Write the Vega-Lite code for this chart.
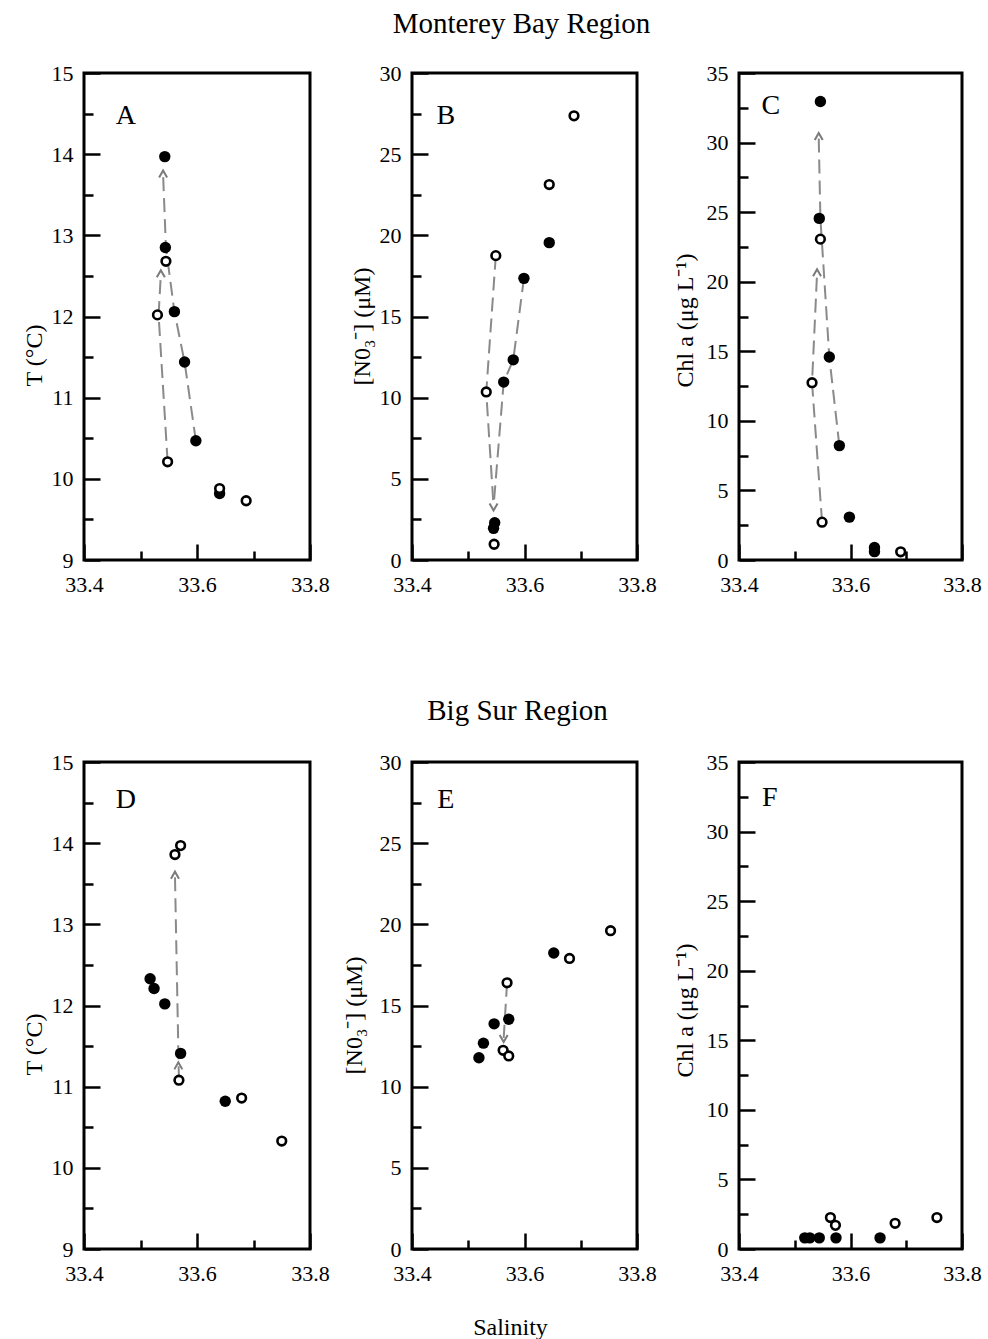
{
"$schema":"https://vega.github.io/schema/vega-lite/v6.json",
"autosize":{"type":"none"},
"padding":{"left":84,"top":73,"right":904,"bottom":1266},
"background":"white",
"datasets":{
"pts":[
{"p":"A","s":33.543,"v":13.97,"t":"filled"},{"p":"A","s":33.544,"v":12.85,"t":"filled"},{"p":"A","s":33.560,"v":12.06,"t":"filled"},{"p":"A","s":33.578,"v":11.44,"t":"filled"},{"p":"A","s":33.598,"v":10.47,"t":"filled"},{"p":"A","s":33.640,"v":9.82,"t":"filled"},
{"p":"A","s":33.530,"v":12.02,"t":"open"},{"p":"A","s":33.545,"v":12.68,"t":"open"},{"p":"A","s":33.548,"v":10.21,"t":"open"},{"p":"A","s":33.640,"v":9.88,"t":"open"},{"p":"A","s":33.687,"v":9.73,"t":"open"},
{"p":"B","s":33.644,"v":19.55,"t":"filled"},{"p":"B","s":33.599,"v":17.35,"t":"filled"},{"p":"B","s":33.580,"v":12.33,"t":"filled"},{"p":"B","s":33.563,"v":10.96,"t":"filled"},{"p":"B","s":33.545,"v":1.95,"t":"filled"},{"p":"B","s":33.547,"v":2.3,"t":"filled"},
{"p":"B","s":33.688,"v":27.36,"t":"open"},{"p":"B","s":33.644,"v":23.13,"t":"open"},{"p":"B","s":33.549,"v":18.75,"t":"open"},{"p":"B","s":33.532,"v":10.35,"t":"open"},{"p":"B","s":33.546,"v":0.97,"t":"open"},
{"p":"C","s":33.546,"v":32.95,"t":"filled"},{"p":"C","s":33.544,"v":24.55,"t":"filled"},{"p":"C","s":33.562,"v":14.59,"t":"filled"},{"p":"C","s":33.580,"v":8.22,"t":"filled"},{"p":"C","s":33.598,"v":3.08,"t":"filled"},{"p":"C","s":33.643,"v":0.9,"t":"filled"},{"p":"C","s":33.643,"v":0.6,"t":"filled"},
{"p":"C","s":33.546,"v":23.06,"t":"open"},{"p":"C","s":33.531,"v":12.74,"t":"open"},{"p":"C","s":33.549,"v":2.72,"t":"open"},{"p":"C","s":33.690,"v":0.59,"t":"open"},
{"p":"D","s":33.517,"v":12.33,"t":"filled"},{"p":"D","s":33.524,"v":12.21,"t":"filled"},{"p":"D","s":33.543,"v":12.02,"t":"filled"},{"p":"D","s":33.571,"v":11.41,"t":"filled"},{"p":"D","s":33.650,"v":10.82,"t":"filled"},
{"p":"D","s":33.571,"v":13.97,"t":"open"},{"p":"D","s":33.561,"v":13.86,"t":"open"},{"p":"D","s":33.568,"v":11.08,"t":"open"},{"p":"D","s":33.679,"v":10.86,"t":"open"},{"p":"D","s":33.750,"v":10.33,"t":"open"},
{"p":"E","s":33.519,"v":11.78,"t":"filled"},{"p":"E","s":33.527,"v":12.68,"t":"filled"},{"p":"E","s":33.546,"v":13.87,"t":"filled"},{"p":"E","s":33.572,"v":14.15,"t":"filled"},{"p":"E","s":33.652,"v":18.23,"t":"filled"},
{"p":"E","s":33.569,"v":16.40,"t":"open"},{"p":"E","s":33.562,"v":12.24,"t":"open"},{"p":"E","s":33.572,"v":11.89,"t":"open"},{"p":"E","s":33.680,"v":17.90,"t":"open"},{"p":"E","s":33.753,"v":19.61,"t":"open"},
{"p":"F","s":33.518,"v":0.8,"t":"filled"},{"p":"F","s":33.527,"v":0.8,"t":"filled"},{"p":"F","s":33.544,"v":0.8,"t":"filled"},{"p":"F","s":33.574,"v":0.8,"t":"filled"},{"p":"F","s":33.653,"v":0.8,"t":"filled"},
{"p":"F","s":33.564,"v":2.26,"t":"open"},{"p":"F","s":33.573,"v":1.7,"t":"open"},{"p":"F","s":33.680,"v":1.85,"t":"open"},{"p":"F","s":33.755,"v":2.26,"t":"open"}
],
"paths":[
{"p":"A","id":"A1","o":1,"s":33.548,"v":10.21},{"p":"A","id":"A1","o":2,"s":33.532,"v":12.02},{"p":"A","id":"A1","o":3,"s":33.536,"v":12.52},
{"p":"A","id":"A2","o":1,"s":33.598,"v":10.47},{"p":"A","id":"A2","o":2,"s":33.578,"v":11.44},{"p":"A","id":"A2","o":3,"s":33.560,"v":12.06},{"p":"A","id":"A2","o":4,"s":33.545,"v":12.85},{"p":"A","id":"A2","o":5,"s":33.540,"v":13.75},
{"p":"B","id":"B1","o":1,"s":33.549,"v":18.75},{"p":"B","id":"B1","o":2,"s":33.532,"v":10.35},{"p":"B","id":"B1","o":3,"s":33.545,"v":3.3},
{"p":"B","id":"B2","o":1,"s":33.599,"v":17.35},{"p":"B","id":"B2","o":2,"s":33.580,"v":12.33},{"p":"B","id":"B2","o":3,"s":33.563,"v":10.96},{"p":"B","id":"B2","o":4,"s":33.545,"v":3.3},
{"p":"C","id":"C1","o":1,"s":33.549,"v":2.72},{"p":"C","id":"C1","o":2,"s":33.531,"v":12.74},{"p":"C","id":"C1","o":3,"s":33.540,"v":20.6},
{"p":"C","id":"C2","o":1,"s":33.580,"v":8.22},{"p":"C","id":"C2","o":2,"s":33.562,"v":14.59},{"p":"C","id":"C2","o":3,"s":33.546,"v":24.55},{"p":"C","id":"C2","o":4,"s":33.543,"v":30.4},
{"p":"D","id":"D1","o":1,"s":33.568,"v":11.08},{"p":"D","id":"D1","o":2,"s":33.561,"v":13.6},
{"p":"E","id":"E1","o":1,"s":33.569,"v":16.40},{"p":"E","id":"E1","o":2,"s":33.563,"v":13.0}
],
"heads":[
{"p":"A","s":33.536,"v":12.52,"d":"up"},{"p":"A","s":33.540,"v":13.75,"d":"up"},
{"p":"B","s":33.545,"v":3.3,"d":"down"},
{"p":"C","s":33.540,"v":20.6,"d":"up"},{"p":"C","s":33.543,"v":30.4,"d":"up"},
{"p":"D","s":33.561,"v":13.6,"d":"up"},{"p":"D","s":33.567,"v":11.25,"d":"up"},
{"p":"E","s":33.563,"v":13.0,"d":"down"}
],
"letters":[
{"p":"A","s":33.474,"v":14.47},{"p":"B","s":33.46,"v":27.35},{"p":"C","s":33.457,"v":32.63},
{"p":"D","s":33.474,"v":14.53},{"p":"E","s":33.46,"v":27.66},{"p":"F","s":33.455,"v":32.4}
]
},
"columns":3,
"spacing":{"row":202,"column":102},
"bounds":"flush",
"concat":[
{"width":226,"height":487,
"layer":[
{"data":{"name":"paths"},"transform":[{"filter":"datum.p==='A'"}],"mark":{"type":"line","stroke":"#8a8a8a","strokeWidth":2,"strokeDash":[14,7]},
"encoding":{"x":{"field":"s","type":"quantitative","scale":{"domain":[33.4,33.8],"nice":false,"zero":false},"axis":{"orient":"bottom","values":[33.4,33.6,33.8],"tickSize":-16,"labelPadding":30,"title":null}},
"y":{"field":"v","type":"quantitative","scale":{"domain":[9,15],"nice":false,"zero":false},"axis":{"orient":"left","values":[9,10,11,12,13,14,15],"tickSize":-16,"labelPadding":27,"title":"T (°C)","titleX":-50,"titleY":282}},
"detail":{"field":"id"},"order":{"field":"o"}}},
{"data":{"name":"heads"},"transform":[{"filter":"datum.p==='A'"}],"mark":{"type":"point","filled":false,"stroke":"#7a7a7a","strokeWidth":2,"size":100,"opacity":1},
"encoding":{"x":{"field":"s","type":"quantitative","scale":{"domain":[33.4,33.8],"nice":false,"zero":false},"axis":{"orient":"bottom","values":[33.5,33.7],"tickSize":-9,"labels":false,"title":null}},
"y":{"field":"v","type":"quantitative","scale":{"domain":[9,15],"nice":false,"zero":false},"axis":{"orient":"left","values":[9.5,10.5,11.5,12.5,13.5,14.5],"tickSize":-9,"labels":false,"title":null}},
"shape":{"field":"d","type":"nominal","scale":{"domain":["up","down"],"range":["M-0.8,0.6L0,-0.8L0.8,0.6","M-0.8,-0.6L0,0.8L0.8,-0.6"]},"legend":null}}},
{"data":{"name":"pts"},"transform":[{"filter":"datum.p==='A' && datum.t==='filled'"}],"mark":{"type":"circle","fill":"black","size":130,"opacity":1},
"encoding":{"x":{"field":"s","type":"quantitative","scale":{"domain":[33.4,33.8],"nice":false,"zero":false},"axis":null},"y":{"field":"v","type":"quantitative","scale":{"domain":[9,15],"nice":false,"zero":false},"axis":null}}},
{"data":{"name":"pts"},"transform":[{"filter":"datum.p==='A' && datum.t==='open'"}],"mark":{"type":"circle","fill":"white","stroke":"black","strokeWidth":2.6,"size":75,"opacity":1},
"encoding":{"x":{"field":"s","type":"quantitative","scale":{"domain":[33.4,33.8],"nice":false,"zero":false},"axis":null},"y":{"field":"v","type":"quantitative","scale":{"domain":[9,15],"nice":false,"zero":false},"axis":null}}},
{"data":{"name":"letters"},"transform":[{"filter":"datum.p==='A'"}],"mark":{"type":"text","font":"Liberation Serif","fontSize":28,"align":"center","baseline":"middle","color":"black"},
"encoding":{"x":{"field":"s","type":"quantitative","scale":{"domain":[33.4,33.8],"nice":false,"zero":false},"axis":null},"y":{"field":"v","type":"quantitative","scale":{"domain":[9,15],"nice":false,"zero":false},"axis":null},"text":{"field":"p"}}}
],
"resolve":{"axis":{"x":"independent","y":"independent"}}},

{"width":225,"height":487,
"title":{"text":"Monterey Bay Region","frame":"group","anchor":"middle","fontSize":29,"font":"Liberation Serif","fontWeight":"normal","baseline":"alphabetic","offset":0,"dx":-3,"color":"black"},
"layer":[
{"data":{"name":"paths"},"transform":[{"filter":"datum.p==='B'"}],"mark":{"type":"line","stroke":"#8a8a8a","strokeWidth":2,"strokeDash":[14,7]},
"encoding":{"x":{"field":"s","type":"quantitative","scale":{"domain":[33.4,33.8],"nice":false,"zero":false},"axis":{"orient":"bottom","values":[33.4,33.6,33.8],"tickSize":-16,"labelPadding":30,"title":null}},
"y":{"field":"v","type":"quantitative","scale":{"domain":[0,30],"nice":false,"zero":false},"axis":{"orient":"left","values":[0,5,10,15,20,25,30],"tickSize":-16,"labelPadding":27,"title":"[N0₃⁻] (μM)","titleX":-50,"titleY":253}},
"detail":{"field":"id"},"order":{"field":"o"}}},
{"data":{"name":"heads"},"transform":[{"filter":"datum.p==='B'"}],"mark":{"type":"point","filled":false,"stroke":"#7a7a7a","strokeWidth":2,"size":100,"opacity":1},
"encoding":{"x":{"field":"s","type":"quantitative","scale":{"domain":[33.4,33.8],"nice":false,"zero":false},"axis":{"orient":"bottom","values":[33.5,33.7],"tickSize":-9,"labels":false,"title":null}},
"y":{"field":"v","type":"quantitative","scale":{"domain":[0,30],"nice":false,"zero":false},"axis":{"orient":"left","values":[2.5,7.5,12.5,17.5,22.5,27.5],"tickSize":-9,"labels":false,"title":null}},
"shape":{"field":"d","type":"nominal","scale":{"domain":["up","down"],"range":["M-0.8,0.6L0,-0.8L0.8,0.6","M-0.8,-0.6L0,0.8L0.8,-0.6"]},"legend":null}}},
{"data":{"name":"pts"},"transform":[{"filter":"datum.p==='B' && datum.t==='filled'"}],"mark":{"type":"circle","fill":"black","size":130,"opacity":1},
"encoding":{"x":{"field":"s","type":"quantitative","scale":{"domain":[33.4,33.8],"nice":false,"zero":false},"axis":null},"y":{"field":"v","type":"quantitative","scale":{"domain":[0,30],"nice":false,"zero":false},"axis":null}}},
{"data":{"name":"pts"},"transform":[{"filter":"datum.p==='B' && datum.t==='open'"}],"mark":{"type":"circle","fill":"white","stroke":"black","strokeWidth":2.6,"size":75,"opacity":1},
"encoding":{"x":{"field":"s","type":"quantitative","scale":{"domain":[33.4,33.8],"nice":false,"zero":false},"axis":null},"y":{"field":"v","type":"quantitative","scale":{"domain":[0,30],"nice":false,"zero":false},"axis":null}}},
{"data":{"name":"letters"},"transform":[{"filter":"datum.p==='B'"}],"mark":{"type":"text","font":"Liberation Serif","fontSize":28,"align":"center","baseline":"middle","color":"black"},
"encoding":{"x":{"field":"s","type":"quantitative","scale":{"domain":[33.4,33.8],"nice":false,"zero":false},"axis":null},"y":{"field":"v","type":"quantitative","scale":{"domain":[0,30],"nice":false,"zero":false},"axis":null},"text":{"field":"p"}}}
],
"resolve":{"axis":{"x":"independent","y":"independent"}}},

{"width":223,"height":487,
"layer":[
{"data":{"name":"paths"},"transform":[{"filter":"datum.p==='C'"}],"mark":{"type":"line","stroke":"#8a8a8a","strokeWidth":2,"strokeDash":[14,7]},
"encoding":{"x":{"field":"s","type":"quantitative","scale":{"domain":[33.4,33.8],"nice":false,"zero":false},"axis":{"orient":"bottom","values":[33.4,33.6,33.8],"tickSize":-16,"labelPadding":30,"title":null}},
"y":{"field":"v","type":"quantitative","scale":{"domain":[0,35],"nice":false,"zero":false},"axis":{"orient":"left","values":[0,5,10,15,20,25,30,35],"tickSize":-16,"labelPadding":27,"title":"Chl a (μg L⁻¹)","titleX":-54,"titleY":247}},
"detail":{"field":"id"},"order":{"field":"o"}}},
{"data":{"name":"heads"},"transform":[{"filter":"datum.p==='C'"}],"mark":{"type":"point","filled":false,"stroke":"#7a7a7a","strokeWidth":2,"size":100,"opacity":1},
"encoding":{"x":{"field":"s","type":"quantitative","scale":{"domain":[33.4,33.8],"nice":false,"zero":false},"axis":{"orient":"bottom","values":[33.5,33.7],"tickSize":-9,"labels":false,"title":null}},
"y":{"field":"v","type":"quantitative","scale":{"domain":[0,35],"nice":false,"zero":false},"axis":{"orient":"left","values":[2.5,7.5,12.5,17.5,22.5,27.5,32.5],"tickSize":-9,"labels":false,"title":null}},
"shape":{"field":"d","type":"nominal","scale":{"domain":["up","down"],"range":["M-0.8,0.6L0,-0.8L0.8,0.6","M-0.8,-0.6L0,0.8L0.8,-0.6"]},"legend":null}}},
{"data":{"name":"pts"},"transform":[{"filter":"datum.p==='C' && datum.t==='filled'"}],"mark":{"type":"circle","fill":"black","size":130,"opacity":1},
"encoding":{"x":{"field":"s","type":"quantitative","scale":{"domain":[33.4,33.8],"nice":false,"zero":false},"axis":null},"y":{"field":"v","type":"quantitative","scale":{"domain":[0,35],"nice":false,"zero":false},"axis":null}}},
{"data":{"name":"pts"},"transform":[{"filter":"datum.p==='C' && datum.t==='open'"}],"mark":{"type":"circle","fill":"white","stroke":"black","strokeWidth":2.6,"size":75,"opacity":1},
"encoding":{"x":{"field":"s","type":"quantitative","scale":{"domain":[33.4,33.8],"nice":false,"zero":false},"axis":null},"y":{"field":"v","type":"quantitative","scale":{"domain":[0,35],"nice":false,"zero":false},"axis":null}}},
{"data":{"name":"letters"},"transform":[{"filter":"datum.p==='C'"}],"mark":{"type":"text","font":"Liberation Serif","fontSize":28,"align":"center","baseline":"middle","color":"black"},
"encoding":{"x":{"field":"s","type":"quantitative","scale":{"domain":[33.4,33.8],"nice":false,"zero":false},"axis":null},"y":{"field":"v","type":"quantitative","scale":{"domain":[0,35],"nice":false,"zero":false},"axis":null},"text":{"field":"p"}}}
],
"resolve":{"axis":{"x":"independent","y":"independent"}}},

{"width":226,"height":487,
"layer":[
{"data":{"name":"paths"},"transform":[{"filter":"datum.p==='D'"}],"mark":{"type":"line","stroke":"#8a8a8a","strokeWidth":2,"strokeDash":[14,7]},
"encoding":{"x":{"field":"s","type":"quantitative","scale":{"domain":[33.4,33.8],"nice":false,"zero":false},"axis":{"orient":"bottom","values":[33.4,33.6,33.8],"tickSize":-16,"labelPadding":30,"title":null}},
"y":{"field":"v","type":"quantitative","scale":{"domain":[9,15],"nice":false,"zero":false},"axis":{"orient":"left","values":[9,10,11,12,13,14,15],"tickSize":-16,"labelPadding":27,"title":"T (°C)","titleX":-50,"titleY":282}},
"detail":{"field":"id"},"order":{"field":"o"}}},
{"data":{"name":"heads"},"transform":[{"filter":"datum.p==='D'"}],"mark":{"type":"point","filled":false,"stroke":"#7a7a7a","strokeWidth":2,"size":100,"opacity":1},
"encoding":{"x":{"field":"s","type":"quantitative","scale":{"domain":[33.4,33.8],"nice":false,"zero":false},"axis":{"orient":"bottom","values":[33.5,33.7],"tickSize":-9,"labels":false,"title":null}},
"y":{"field":"v","type":"quantitative","scale":{"domain":[9,15],"nice":false,"zero":false},"axis":{"orient":"left","values":[9.5,10.5,11.5,12.5,13.5,14.5],"tickSize":-9,"labels":false,"title":null}},
"shape":{"field":"d","type":"nominal","scale":{"domain":["up","down"],"range":["M-0.8,0.6L0,-0.8L0.8,0.6","M-0.8,-0.6L0,0.8L0.8,-0.6"]},"legend":null}}},
{"data":{"name":"pts"},"transform":[{"filter":"datum.p==='D' && datum.t==='filled'"}],"mark":{"type":"circle","fill":"black","size":130,"opacity":1},
"encoding":{"x":{"field":"s","type":"quantitative","scale":{"domain":[33.4,33.8],"nice":false,"zero":false},"axis":null},"y":{"field":"v","type":"quantitative","scale":{"domain":[9,15],"nice":false,"zero":false},"axis":null}}},
{"data":{"name":"pts"},"transform":[{"filter":"datum.p==='D' && datum.t==='open'"}],"mark":{"type":"circle","fill":"white","stroke":"black","strokeWidth":2.6,"size":75,"opacity":1},
"encoding":{"x":{"field":"s","type":"quantitative","scale":{"domain":[33.4,33.8],"nice":false,"zero":false},"axis":null},"y":{"field":"v","type":"quantitative","scale":{"domain":[9,15],"nice":false,"zero":false},"axis":null}}},
{"data":{"name":"letters"},"transform":[{"filter":"datum.p==='D'"}],"mark":{"type":"text","font":"Liberation Serif","fontSize":28,"align":"center","baseline":"middle","color":"black"},
"encoding":{"x":{"field":"s","type":"quantitative","scale":{"domain":[33.4,33.8],"nice":false,"zero":false},"axis":null},"y":{"field":"v","type":"quantitative","scale":{"domain":[9,15],"nice":false,"zero":false},"axis":null},"text":{"field":"p"}}}
],
"resolve":{"axis":{"x":"independent","y":"independent"}}},

{"width":225,"height":487,
"title":{"text":"Big Sur Region","frame":"group","anchor":"middle","fontSize":29,"font":"Liberation Serif","fontWeight":"normal","baseline":"alphabetic","offset":2,"dx":-7,"color":"black"},
"layer":[
{"data":{"name":"paths"},"transform":[{"filter":"datum.p==='E'"}],"mark":{"type":"line","stroke":"#8a8a8a","strokeWidth":2,"strokeDash":[14,7]},
"encoding":{"x":{"field":"s","type":"quantitative","scale":{"domain":[33.4,33.8],"nice":false,"zero":false},"axis":{"orient":"bottom","values":[33.4,33.6,33.8],"tickSize":-16,"labelPadding":30,"title":"Salinity","titleX":98,"titleY":85,"titleBaseline":"alphabetic","titleFontSize":24}},
"y":{"field":"v","type":"quantitative","scale":{"domain":[0,30],"nice":false,"zero":false},"axis":{"orient":"left","values":[0,5,10,15,20,25,30],"tickSize":-16,"labelPadding":27,"title":"[N0₃⁻] (μM)","titleX":-58,"titleY":253}},
"detail":{"field":"id"},"order":{"field":"o"}}},
{"data":{"name":"heads"},"transform":[{"filter":"datum.p==='E'"}],"mark":{"type":"point","filled":false,"stroke":"#7a7a7a","strokeWidth":2,"size":100,"opacity":1},
"encoding":{"x":{"field":"s","type":"quantitative","scale":{"domain":[33.4,33.8],"nice":false,"zero":false},"axis":{"orient":"bottom","values":[33.5,33.7],"tickSize":-9,"labels":false,"title":null}},
"y":{"field":"v","type":"quantitative","scale":{"domain":[0,30],"nice":false,"zero":false},"axis":{"orient":"left","values":[2.5,7.5,12.5,17.5,22.5,27.5],"tickSize":-9,"labels":false,"title":null}},
"shape":{"field":"d","type":"nominal","scale":{"domain":["up","down"],"range":["M-0.8,0.6L0,-0.8L0.8,0.6","M-0.8,-0.6L0,0.8L0.8,-0.6"]},"legend":null}}},
{"data":{"name":"pts"},"transform":[{"filter":"datum.p==='E' && datum.t==='filled'"}],"mark":{"type":"circle","fill":"black","size":130,"opacity":1},
"encoding":{"x":{"field":"s","type":"quantitative","scale":{"domain":[33.4,33.8],"nice":false,"zero":false},"axis":null},"y":{"field":"v","type":"quantitative","scale":{"domain":[0,30],"nice":false,"zero":false},"axis":null}}},
{"data":{"name":"pts"},"transform":[{"filter":"datum.p==='E' && datum.t==='open'"}],"mark":{"type":"circle","fill":"white","stroke":"black","strokeWidth":2.6,"size":75,"opacity":1},
"encoding":{"x":{"field":"s","type":"quantitative","scale":{"domain":[33.4,33.8],"nice":false,"zero":false},"axis":null},"y":{"field":"v","type":"quantitative","scale":{"domain":[0,30],"nice":false,"zero":false},"axis":null}}},
{"data":{"name":"letters"},"transform":[{"filter":"datum.p==='E'"}],"mark":{"type":"text","font":"Liberation Serif","fontSize":28,"align":"center","baseline":"middle","color":"black"},
"encoding":{"x":{"field":"s","type":"quantitative","scale":{"domain":[33.4,33.8],"nice":false,"zero":false},"axis":null},"y":{"field":"v","type":"quantitative","scale":{"domain":[0,30],"nice":false,"zero":false},"axis":null},"text":{"field":"p"}}}
],
"resolve":{"axis":{"x":"independent","y":"independent"}}},

{"width":223,"height":487,
"layer":[
{"data":{"name":"paths"},"transform":[{"filter":"datum.p==='F'"}],"mark":{"type":"line","stroke":"#8a8a8a","strokeWidth":2,"strokeDash":[14,7]},
"encoding":{"x":{"field":"s","type":"quantitative","scale":{"domain":[33.4,33.8],"nice":false,"zero":false},"axis":{"orient":"bottom","values":[33.4,33.6,33.8],"tickSize":-16,"labelPadding":30,"title":null}},
"y":{"field":"v","type":"quantitative","scale":{"domain":[0,35],"nice":false,"zero":false},"axis":{"orient":"left","values":[0,5,10,15,20,25,30,35],"tickSize":-16,"labelPadding":27,"title":"Chl a (μg L⁻¹)","titleX":-54,"titleY":248}},
"detail":{"field":"id"},"order":{"field":"o"}}},
{"data":{"name":"heads"},"transform":[{"filter":"datum.p==='F'"}],"mark":{"type":"point","filled":false,"stroke":"#7a7a7a","strokeWidth":2,"size":100,"opacity":1},
"encoding":{"x":{"field":"s","type":"quantitative","scale":{"domain":[33.4,33.8],"nice":false,"zero":false},"axis":{"orient":"bottom","values":[33.5,33.7],"tickSize":-9,"labels":false,"title":null}},
"y":{"field":"v","type":"quantitative","scale":{"domain":[0,35],"nice":false,"zero":false},"axis":{"orient":"left","values":[2.5,7.5,12.5,17.5,22.5,27.5,32.5],"tickSize":-9,"labels":false,"title":null}},
"shape":{"field":"d","type":"nominal","scale":{"domain":["up","down"],"range":["M-0.8,0.6L0,-0.8L0.8,0.6","M-0.8,-0.6L0,0.8L0.8,-0.6"]},"legend":null}}},
{"data":{"name":"pts"},"transform":[{"filter":"datum.p==='F' && datum.t==='filled'"}],"mark":{"type":"circle","fill":"black","size":130,"opacity":1},
"encoding":{"x":{"field":"s","type":"quantitative","scale":{"domain":[33.4,33.8],"nice":false,"zero":false},"axis":null},"y":{"field":"v","type":"quantitative","scale":{"domain":[0,35],"nice":false,"zero":false},"axis":null}}},
{"data":{"name":"pts"},"transform":[{"filter":"datum.p==='F' && datum.t==='open'"}],"mark":{"type":"circle","fill":"white","stroke":"black","strokeWidth":2.6,"size":75,"opacity":1},
"encoding":{"x":{"field":"s","type":"quantitative","scale":{"domain":[33.4,33.8],"nice":false,"zero":false},"axis":null},"y":{"field":"v","type":"quantitative","scale":{"domain":[0,35],"nice":false,"zero":false},"axis":null}}},
{"data":{"name":"letters"},"transform":[{"filter":"datum.p==='F'"}],"mark":{"type":"text","font":"Liberation Serif","fontSize":28,"align":"center","baseline":"middle","color":"black"},
"encoding":{"x":{"field":"s","type":"quantitative","scale":{"domain":[33.4,33.8],"nice":false,"zero":false},"axis":null},"y":{"field":"v","type":"quantitative","scale":{"domain":[0,35],"nice":false,"zero":false},"axis":null},"text":{"field":"p"}}}
],
"resolve":{"axis":{"x":"independent","y":"independent"}}}
],
"config":{
"view":{"stroke":"black","strokeWidth":3},
"axis":{"labelFont":"Liberation Serif","labelFontSize":22,"labelColor":"black","titleFont":"Liberation Serif","titleFontSize":24,"titleFontWeight":"normal","titleColor":"black","titleBaseline":"middle","domain":false,"grid":false,"tickColor":"black","tickWidth":2.5,"labelFlush":false,"labelOverlap":false}
}
}
